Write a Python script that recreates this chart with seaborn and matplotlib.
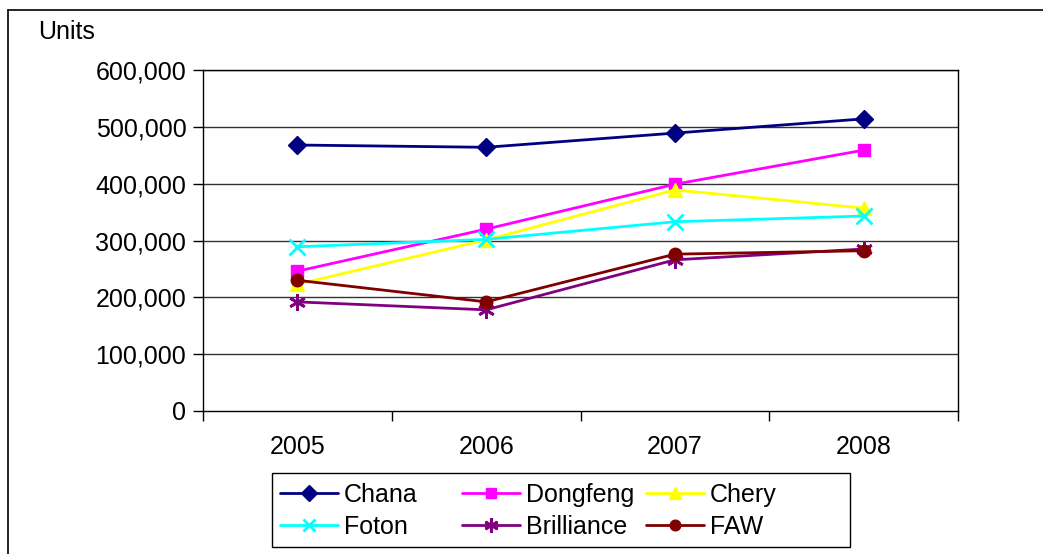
import matplotlib
matplotlib.use("Agg")
import matplotlib.pyplot as plt
from matplotlib.lines import Line2D
from matplotlib.patches import Rectangle
from matplotlib.ticker import FuncFormatter, FixedLocator
import seaborn as sns
import pandas as pd

years = [2005, 2006, 2007, 2008]
chana = [468000, 464000, 489000, 514000]
dongfeng = [246000, 320000, 399000, 459000]
chery = [223000, 301000, 389000, 357000]
foton = [289000, 302000, 333000, 343000]
brilliance = [192000, 178000, 266000, 285000]
faw = [230000, 192000, 276000, 282000]

series = {"Chana": chana, "Dongfeng": dongfeng, "Chery": chery,
          "Foton": foton, "Brilliance": brilliance, "FAW": faw}
colors = {"Chana": "#000080", "Dongfeng": "#FF00FF", "Chery": "#FFFF00",
          "Foton": "#00FFFF", "Brilliance": "#800080", "FAW": "#800000"}
markers = {"Chana": "D", "Dongfeng": "s", "Chery": "^",
           "Foton": "x", "Brilliance": (6, 2, 0), "FAW": "o"}
msizes = {"Chana": 9, "Dongfeng": 9, "Chery": 10,
          "Foton": 11, "Brilliance": 12, "FAW": 9}

rows = []
for name, vals in series.items():
    for y, v in zip(years, vals):
        rows.append({"Year": y, "Units": v, "Maker": name})
df = pd.DataFrame(rows)

sns.set_style("white")
plt.rcParams["font.family"] = ["Liberation Sans", "DejaVu Sans"]
plt.rcParams["text.color"] = "black"
FS = 18

fig = plt.figure(figsize=(10.43, 5.54), dpi=100)
ax = fig.add_axes([203/1043, 1-411/554, (958-203)/1043, (411-70)/554])

handles = {}
for name in series:
    sub = df[df["Maker"] == name]
    mk = markers[name]
    lw_m = 2 if name in ("Foton", "Brilliance") else 1
    sns.lineplot(data=sub, x="Year", y="Units", ax=ax, color=colors[name],
                 marker=mk, markersize=msizes[name], linewidth=2,
                 markeredgecolor=colors[name], markeredgewidth=lw_m,
                 legend=False, zorder=3)
    handles[name] = Line2D([], [], color=colors[name], marker=mk,
                           markersize=msizes[name]*0.85, linewidth=2,
                           markeredgecolor=colors[name], markeredgewidth=lw_m)

ax.set_xlim(2004.5, 2008.5)
ax.set_ylim(0, 600000)
ax.set_yticks(range(0, 600001, 100000))
ax.yaxis.set_major_formatter(FuncFormatter(lambda v, p: f"{int(v):,}"))
ax.xaxis.set_major_locator(FixedLocator([2004.5, 2005.5, 2006.5, 2007.5, 2008.5]))
ax.xaxis.set_minor_locator(FixedLocator(years))
ax.set_xticklabels([])
ax.set_xticklabels([str(y) for y in years], minor=True)
ax.tick_params(axis="x", which="major", direction="out", length=7, width=1,
               color="black", bottom=True)
ax.tick_params(axis="x", which="minor", length=0, labelsize=FS, pad=17,
               labelcolor="black")
ax.tick_params(axis="y", direction="out", length=7, width=1, color="black",
               labelsize=FS, pad=5, left=True, labelcolor="black")
ax.set_xlabel("")
ax.set_ylabel("")
ax.grid(False)
for yv in range(100000, 600001, 100000):
    ax.axhline(yv, color="#333333", linewidth=1, zorder=1)
for s in ["left", "bottom", "right", "top"]:
    ax.spines[s].set_visible(True)
    ax.spines[s].set_color("black")
    ax.spines[s].set_linewidth(1)

fig.text(38/1043, 1-32/554, "Units", fontsize=FS, va="center", ha="left",
         color="black")

# legend frame
fig.add_artist(Rectangle((272/1043, 1-547/554), (850-272)/1043, 74/554,
                         transform=fig.transFigure, fill=False,
                         edgecolor="black", linewidth=1))
columns = [["Chana", "Foton"], ["Dongfeng", "Brilliance"], ["Chery", "FAW"]]
col_x = [280, 462, 646]
for names, cx in zip(columns, col_x):
    fig.legend([handles[n] for n in names], names, loc="upper left",
               bbox_to_anchor=(cx/1043, 1-483/554), frameon=False,
               fontsize=FS, handlelength=2.3, handletextpad=0.25,
               borderpad=0, borderaxespad=0, labelspacing=0.3,
               labelcolor="black")

fig.add_artist(Line2D([8/1043, 8/1043], [0, 1-10/554], color="black", linewidth=1.2,
                      transform=fig.transFigure))
fig.add_artist(Line2D([8/1043, 1], [1-10/554, 1-10/554], color="black", linewidth=1.2,
                      transform=fig.transFigure))

fig.savefig("out.png", dpi=100)
